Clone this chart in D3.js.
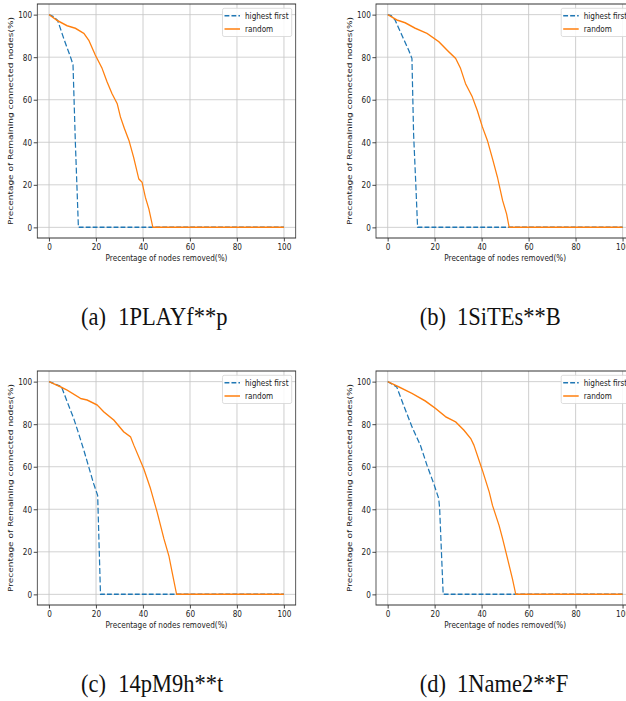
<!DOCTYPE html>
<html>
<head>
<meta charset="utf-8">
<title>Attack curves</title>
<script src="https://d3js.org/d3.v7.min.js"></script>
<style>
  body { margin: 0; background: #fff; }
  svg { display: block; }
</style>
</head>
<body>
<div id="chart"></div>
<script>
// Data ***********************
var panelLetters = ["a", "b", "c", "d"];
var panelNames = ["1PLAYf**p", "1SiTEs**B", "14pM9h**t", "1Name2**F"];
var seriesNames = ["highest first", "random"];
var xTicks = [0, 20, 40, 60, 80, 100];
var yTicks = [0, 20, 40, 60, 80, 100];

// [% removed, % remaining]
var highestA = [[0,100],[2,99],[3.7,97.2],[6.5,88],[9.1,80.2],[10.2,76.5],[11.2,40],[12.5,0],[100,0]];
var randomA = [[0,100],[3.1,97.5],[7.7,94.8],[11.2,93.6],[14.8,91.2],[16.9,88],[19.7,81],[22.6,74.7],[24.7,68.4],
  [26.8,62.9],[29,58.2],[30.4,51.9],[32.1,46.4],[34,40.9],[36,33],[38.2,22.8],[39.6,21.2],[41,14.2],[42.5,8.6],[44.2,0],[100,0]];

var highestB = [[0,100],[1.5,99.5],[3.1,97.5],[6,90.4],[8.9,83.3],[10.3,79.4],[11,44],[12,18.9],[12.7,0],[100,0]];
var randomB = [[0,100],[3.9,97.5],[7.4,96.2],[11.7,93.6],[16.7,91.2],[21.7,87.3],[26,82.5],[28.9,79.4],[31,74.7],
  [33.1,67.6],[36,61.3],[38.1,55],[40.3,47.2],[42.4,40.9],[44.6,32.2],[46.7,23.6],[48.9,12.6],[50.6,6.3],[51.7,0],[100,0]];

var highestC = [[0,100],[5.3,97.6],[7.7,90.6],[10.5,82.7],[12.6,75.6],[14.8,67.8],[16.9,59.9],[19,52],[20.7,46.5],[21.9,0],[100,0]];
var randomC = [[0,100],[4.8,97.6],[7.7,96],[13.4,92.1],[16.2,91.4],[20.5,89],[23.3,85.8],[27.6,81.9],[31.8,76.4],
  [34.7,74],[36.1,70.1],[40.3,59.1],[43.2,49.7],[46,38.7],[48.9,26.1],[51,18.2],[52.4,10.4],[54.3,0],[100,0]];

var highestD = [[0,100],[3.8,97.6],[6.7,89],[10.3,78.8],[13.9,70.1],[16.7,60.7],[19.6,52],[21.7,45],[22.1,40.3],[23.6,0],[100,0]];
var randomD = [[0,100],[4.6,97.6],[10.3,94.5],[16,90.9],[20.3,87.4],[24.6,83.5],[28.9,81.1],[32.4,77.2],[35.3,73.3],
  [36.7,70.1],[40.3,58.3],[43.2,48.1],[44.6,41.8],[47.4,32.4],[48.9,26.1],[51,16.7],[53.1,7.2],[54.5,0],[100,0]];

var panelSeries = [[highestA, randomA], [highestB, randomB], [highestC, randomC], [highestD, randomD]];

// Layout ***********************
var W = 626, H = 701;
var kx = 0.81;           // picture is squeezed horizontally
var capK = 0.9;
var offsets = [[0, 0], [338.7, 0], [0, 367], [338.7, 367]];
var frame = {left: 37.3, right: 295.7, top: 4, bottom: 238};
var colors = ["#1f77b4", "#ff7f0e"];
var font = "'DejaVu Sans', sans-serif";

var svg = d3.select("#chart").append("svg")
    .attr("width", W)
    .attr("height", H);

// same scales for every panel (internal, unsqueezed coords)
var x = d3.scaleLinear().domain([-5, 105]).range([frame.left / kx, frame.right / kx]);
var y = d3.scaleLinear().domain([-5, 105]).range([frame.bottom, frame.top]);

var line = d3.line()
    .x(function(d) { return x(d[0]); })
    .y(function(d) { return y(d[1]); });

panelSeries.forEach(function(series, i) {
    var g = svg.append("g")
        .attr("transform", "translate(" + offsets[i][0] + "," + offsets[i][1] + ") scale(" + kx + ",1)");
    drawPanel(g, series);

    // caption under the panel
    var cap = svg.append("g")
        .attr("transform", "translate(" + (offsets[i][0] + 81) + "," + (offsets[i][1] + 325) + ") scale(" + capK + ",1)");
    var t = cap.append("text")
        .attr("font-family", "'Liberation Serif', 'Times New Roman', serif")
        .attr("font-size", 25)
        .attr("fill", "#111");
    t.append("tspan").text("(" + panelLetters[i] + ")");
    t.append("tspan").attr("x", 37.3 / capK).text(panelNames[i]);
});

function drawPanel(g, series) {
    var x0 = frame.left / kx, x1 = frame.right / kx;

    // grid
    g.append("g").selectAll("line").data(xTicks).enter().append("line")
        .attr("x1", function(d) { return x(d); }).attr("x2", function(d) { return x(d); })
        .attr("y1", frame.top).attr("y2", frame.bottom)
        .attr("stroke", "#c8c8c8").attr("stroke-width", 1.1);
    g.append("g").selectAll("line").data(yTicks).enter().append("line")
        .attr("x1", x0).attr("x2", x1)
        .attr("y1", function(d) { return y(d); }).attr("y2", function(d) { return y(d); })
        .attr("stroke", "#c8c8c8").attr("stroke-width", 0.9);

    // series
    series.forEach(function(data, j) {
        g.append("path")
            .datum(data)
            .attr("fill", "none")
            .attr("stroke", colors[j])
            .attr("stroke-width", 1.5)
            .attr("stroke-dasharray", j === 0 ? "6,2.6" : null)
            .attr("stroke-linejoin", "round")
            .attr("d", line);
    });

    // axes
    var xAxis = g.append("g")
        .attr("transform", "translate(0," + frame.bottom + ")")
        .call(d3.axisBottom(x).tickValues(xTicks).tickSize(3.5).tickPadding(2.5));
    var yAxis = g.append("g")
        .attr("transform", "translate(" + x0 + ",0)")
        .call(d3.axisLeft(y).tickValues(yTicks).tickSize(3.6 / kx).tickPadding(1.6 / kx));
    [xAxis, yAxis].forEach(function(a) {
        a.select(".domain").remove();
        a.selectAll("line").attr("stroke", "#333").attr("stroke-width", 1);
        a.selectAll("text").attr("font-family", font).attr("font-size", 9).attr("fill", "#222");
    });

    // frame
    g.append("rect")
        .attr("x", x0).attr("y", frame.top)
        .attr("width", x1 - x0).attr("height", frame.bottom - frame.top)
        .attr("fill", "none").attr("stroke", "#333").attr("stroke-width", 1);

    // axis labels
    g.append("text")
        .attr("x", (x0 + x1) / 2).attr("y", 261)
        .attr("text-anchor", "middle")
        .attr("font-family", font).attr("font-size", 9).attr("fill", "#222")
        .text("Precentage of nodes removed(%)");
    g.append("text")
        .attr("transform", "translate(" + (13 / kx) + "," + ((frame.top + frame.bottom) / 2) + ") rotate(-90)")
        .attr("text-anchor", "middle")
        .attr("font-family", font).attr("font-size", 9).attr("fill", "#222")
        .text("Precentage of Remaining connected nodes(%)");

    // legend
    var lg = g.append("g");
    lg.append("rect")
        .attr("x", 222.5 / kx).attr("y", 8.3)
        .attr("width", (291.7 - 222.5) / kx).attr("height", 28.2)
        .attr("rx", 2)
        .attr("fill", "#fff").attr("fill-opacity", 0.85)
        .attr("stroke", "#d5d5d5").attr("stroke-width", 0.9);
    seriesNames.forEach(function(name, j) {
        var yy = 15.7 + j * 13.3;
        lg.append("line")
            .attr("x1", 224.5 / kx).attr("x2", 240 / kx)
            .attr("y1", yy).attr("y2", yy)
            .attr("stroke", colors[j]).attr("stroke-width", 1.5)
            .attr("stroke-dasharray", j === 0 ? "6,2.6" : null);
        lg.append("text")
            .attr("x", 245 / kx).attr("y", yy).attr("dy", "0.35em")
            .attr("font-family", font).attr("font-size", 9).attr("fill", "#222")
            .text(name);
    });
}
</script>
</body>
</html>
